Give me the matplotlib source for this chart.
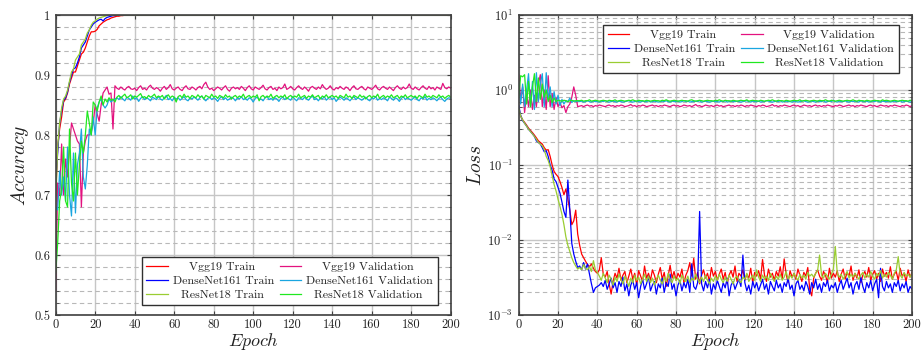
import matplotlib
matplotlib.use('Agg')
import matplotlib.pyplot as plt
from matplotlib.ticker import MultipleLocator, FuncFormatter, LogLocator, NullFormatter

plt.rcParams['font.family'] = 'serif'
plt.rcParams['font.serif'] = ['cmr10', 'DejaVu Serif']
plt.rcParams['mathtext.fontset'] = 'cm'
plt.rcParams['axes.formatter.use_mathtext'] = True
plt.rcParams['axes.unicode_minus'] = False

epochs = list(range(201))

# ---------------- Accuracy ----------------
acc_vgg19_train = [
    0.70, 0.78, 0.81, 0.83, 0.855, 0.86, 0.87, 0.885, 0.895, 0.905,
    0.905, 0.915, 0.925, 0.935, 0.938, 0.945, 0.955, 0.965, 0.972, 0.972,
    0.973, 0.976, 0.982, 0.985, 0.988, 0.99, 0.992, 0.993, 0.995, 0.996,
    0.997, 0.998, 0.998, 0.999, 0.999, 1.0,
] + [
    1.0, 1.0, 1.0, 1.0, 1.0, 1.0, 1.0, 1.0, 1.0, 1.0, 1.0, 1.0, 1.0, 1.0, 1.0,
    1.0, 1.0, 1.0, 1.0, 1.0, 1.0, 1.0, 1.0, 1.0, 1.0, 1.0, 1.0, 1.0, 1.0, 1.0,
    1.0, 1.0, 1.0, 1.0, 1.0, 1.0, 1.0, 1.0, 1.0, 1.0, 1.0, 1.0, 1.0, 1.0, 1.0,
    1.0, 1.0, 1.0, 1.0, 1.0, 1.0, 1.0, 1.0, 1.0, 1.0, 1.0, 1.0, 1.0, 1.0, 1.0,
    1.0, 1.0, 1.0, 1.0, 1.0, 1.0, 1.0, 1.0, 1.0, 1.0, 1.0, 1.0, 1.0, 1.0, 1.0,
    1.0, 1.0, 1.0, 1.0, 1.0, 1.0, 1.0, 1.0, 1.0, 1.0, 1.0, 1.0, 1.0, 1.0, 1.0,
    1.0, 1.0, 1.0, 1.0, 1.0, 1.0, 1.0, 1.0, 1.0, 1.0, 1.0, 1.0, 1.0, 1.0, 1.0,
    1.0, 1.0, 1.0, 1.0, 1.0, 1.0, 1.0, 1.0, 1.0, 1.0, 1.0, 1.0, 1.0, 1.0, 1.0,
    1.0, 1.0, 1.0, 1.0, 1.0, 1.0, 1.0, 1.0, 1.0, 1.0, 1.0, 1.0, 1.0, 1.0, 1.0,
    1.0, 1.0, 1.0, 1.0, 1.0, 1.0, 1.0, 1.0, 1.0, 1.0, 1.0, 1.0, 1.0, 1.0, 1.0,
    1.0, 1.0, 1.0, 1.0, 1.0, 1.0, 1.0, 1.0, 1.0, 1.0, 1.0, 1.0, 1.0, 1.0, 1.0,
]

acc_dense161_train = [
    0.72, 0.77, 0.82, 0.84, 0.858, 0.862, 0.872, 0.888, 0.90, 0.91,
    0.912, 0.92, 0.93, 0.945, 0.95, 0.955, 0.965, 0.975, 0.98, 0.985,
    0.988, 0.99, 0.992, 0.993, 0.99, 0.994, 0.996, 0.997, 0.998, 0.999,
    0.999, 1.0, 1.0, 1.0, 1.0, 1.0,
] + [
    1.0, 1.0, 1.0, 1.0, 1.0, 1.0, 1.0, 1.0, 1.0, 1.0, 1.0, 1.0, 1.0, 1.0, 1.0,
    1.0, 1.0, 1.0, 1.0, 1.0, 1.0, 1.0, 1.0, 1.0, 1.0, 1.0, 1.0, 1.0, 1.0, 1.0,
    1.0, 1.0, 1.0, 1.0, 1.0, 1.0, 1.0, 1.0, 1.0, 1.0, 1.0, 1.0, 1.0, 1.0, 1.0,
    1.0, 1.0, 1.0, 1.0, 1.0, 1.0, 1.0, 1.0, 1.0, 1.0, 1.0, 1.0, 1.0, 1.0, 1.0,
    1.0, 1.0, 1.0, 1.0, 1.0, 1.0, 1.0, 1.0, 1.0, 1.0, 1.0, 1.0, 1.0, 1.0, 1.0,
    1.0, 1.0, 1.0, 1.0, 1.0, 1.0, 1.0, 1.0, 1.0, 1.0, 1.0, 1.0, 1.0, 1.0, 1.0,
    1.0, 1.0, 1.0, 1.0, 1.0, 1.0, 1.0, 1.0, 1.0, 1.0, 1.0, 1.0, 1.0, 1.0, 1.0,
    1.0, 1.0, 1.0, 1.0, 1.0, 1.0, 1.0, 1.0, 1.0, 1.0, 1.0, 1.0, 1.0, 1.0, 1.0,
    1.0, 1.0, 1.0, 1.0, 1.0, 1.0, 1.0, 1.0, 1.0, 1.0, 1.0, 1.0, 1.0, 1.0, 1.0,
    1.0, 1.0, 1.0, 1.0, 1.0, 1.0, 1.0, 1.0, 1.0, 1.0, 1.0, 1.0, 1.0, 1.0, 1.0,
    1.0, 1.0, 1.0, 1.0, 1.0, 1.0, 1.0, 1.0, 1.0, 1.0, 1.0, 1.0, 1.0, 1.0, 1.0,
]

acc_res18_train = [
    0.69, 0.78, 0.82, 0.845, 0.86, 0.865, 0.875, 0.89, 0.905, 0.91,
    0.925, 0.93, 0.935, 0.95, 0.955, 0.96, 0.97, 0.975, 0.983, 0.988,
    0.99, 0.993, 0.995, 0.996, 0.997, 0.998, 0.999, 1.0, 1.0, 1.0,
    1.0, 1.0, 1.0, 1.0, 1.0, 1.0,
] + [
    1.0, 1.0, 1.0, 1.0, 1.0, 1.0, 1.0, 1.0, 1.0, 1.0, 1.0, 1.0, 1.0, 1.0, 1.0,
    1.0, 1.0, 1.0, 1.0, 1.0, 1.0, 1.0, 1.0, 1.0, 1.0, 1.0, 1.0, 1.0, 1.0, 1.0,
    1.0, 1.0, 1.0, 1.0, 1.0, 1.0, 1.0, 1.0, 1.0, 1.0, 1.0, 1.0, 1.0, 1.0, 1.0,
    1.0, 1.0, 1.0, 1.0, 1.0, 1.0, 1.0, 1.0, 1.0, 1.0, 1.0, 1.0, 1.0, 1.0, 1.0,
    1.0, 1.0, 1.0, 1.0, 1.0, 1.0, 1.0, 1.0, 1.0, 1.0, 1.0, 1.0, 1.0, 1.0, 1.0,
    1.0, 1.0, 1.0, 1.0, 1.0, 1.0, 1.0, 1.0, 1.0, 1.0, 1.0, 1.0, 1.0, 1.0, 1.0,
    1.0, 1.0, 1.0, 1.0, 1.0, 1.0, 1.0, 1.0, 1.0, 1.0, 1.0, 1.0, 1.0, 1.0, 1.0,
    1.0, 1.0, 1.0, 1.0, 1.0, 1.0, 1.0, 1.0, 1.0, 1.0, 1.0, 1.0, 1.0, 1.0, 1.0,
    1.0, 1.0, 1.0, 1.0, 1.0, 1.0, 1.0, 1.0, 1.0, 1.0, 1.0, 1.0, 1.0, 1.0, 1.0,
    1.0, 1.0, 1.0, 1.0, 1.0, 1.0, 1.0, 1.0, 1.0, 1.0, 1.0, 1.0, 1.0, 1.0, 1.0,
    1.0, 1.0, 1.0, 1.0, 1.0, 1.0, 1.0, 1.0, 1.0, 1.0, 1.0, 1.0, 1.0, 1.0, 1.0,
]

acc_vgg19_val = [
    0.54, 0.72, 0.70, 0.785, 0.70, 0.76, 0.73, 0.78, 0.82, 0.81,
    0.80, 0.79, 0.785, 0.68, 0.77, 0.79, 0.80, 0.80, 0.805, 0.82,
    0.85, 0.835, 0.823, 0.85, 0.87, 0.875, 0.88, 0.868, 0.87, 0.81,
    0.882,
] + [
    0.878, 0.876, 0.880, 0.877, 0.875, 0.879, 0.881, 0.877, 0.876, 0.878,
    0.874, 0.879, 0.882, 0.876, 0.878, 0.875, 0.880, 0.883, 0.878, 0.876,
    0.879, 0.877, 0.873, 0.878, 0.881, 0.876, 0.879, 0.884, 0.877, 0.875,
    0.878, 0.880, 0.876, 0.874, 0.879, 0.882, 0.877, 0.876, 0.880, 0.878,
    0.875, 0.879, 0.881, 0.877, 0.884, 0.888, 0.880, 0.876, 0.878, 0.874,
    0.877, 0.880, 0.878, 0.875, 0.879, 0.882, 0.876, 0.873, 0.878, 0.880,
    0.877, 0.879, 0.876, 0.881, 0.878, 0.874, 0.879, 0.882, 0.877, 0.875,
    0.880, 0.878, 0.876, 0.879, 0.883, 0.877, 0.875, 0.879, 0.881, 0.876,
    0.878, 0.874, 0.880, 0.877, 0.879, 0.885, 0.876, 0.878, 0.881, 0.877,
    0.875, 0.879, 0.882, 0.878, 0.876, 0.880, 0.877, 0.873, 0.879, 0.881,
    0.878, 0.876, 0.880, 0.877, 0.884, 0.879, 0.876, 0.878, 0.882, 0.877,
    0.875, 0.879, 0.877, 0.881, 0.878, 0.876, 0.880, 0.878, 0.874, 0.879,
    0.882, 0.877, 0.876, 0.879, 0.881, 0.877, 0.875, 0.880, 0.878, 0.876,
    0.879, 0.883, 0.877, 0.875, 0.879, 0.881, 0.878, 0.876, 0.880, 0.877,
    0.874, 0.879, 0.882, 0.878, 0.876, 0.880, 0.877, 0.879, 0.885, 0.878,
    0.876, 0.880, 0.877, 0.875, 0.879, 0.882, 0.878, 0.876, 0.881, 0.877,
    0.879, 0.875, 0.880, 0.878, 0.876, 0.886, 0.879, 0.877, 0.880, 0.878,
]

acc_dense161_val = [
    0.68, 0.675, 0.74, 0.70, 0.73, 0.69, 0.78, 0.70, 0.665, 0.77,
    0.67, 0.75, 0.77, 0.81, 0.73, 0.71, 0.75, 0.81, 0.80, 0.83,
    0.80, 0.845, 0.855, 0.86, 0.85, 0.845, 0.85, 0.86, 0.855, 0.858,
    0.86,
] + [
    0.862, 0.859, 0.864, 0.860, 0.857, 0.863, 0.861, 0.858, 0.865, 0.860,
    0.862, 0.856, 0.861, 0.864, 0.859, 0.862, 0.860, 0.857, 0.863, 0.861,
    0.859, 0.864, 0.860, 0.858, 0.862, 0.866, 0.859, 0.861, 0.857, 0.863,
    0.860, 0.862, 0.858, 0.861, 0.864, 0.859, 0.857, 0.862, 0.860, 0.863,
    0.861, 0.858, 0.862, 0.865, 0.860, 0.857, 0.861, 0.863, 0.859, 0.862,
    0.860, 0.856, 0.861, 0.864, 0.859, 0.862, 0.858, 0.860, 0.863, 0.861,
    0.857, 0.862, 0.860, 0.864, 0.859, 0.861, 0.858, 0.862, 0.860, 0.855,
    0.861, 0.863, 0.859, 0.860, 0.857, 0.862, 0.864, 0.859, 0.861, 0.858,
    0.862, 0.860, 0.856, 0.861, 0.863, 0.859, 0.862, 0.860, 0.858, 0.864,
    0.860, 0.857, 0.862, 0.861, 0.859, 0.863, 0.860, 0.858, 0.862, 0.865,
    0.859, 0.861, 0.857, 0.862, 0.860, 0.864, 0.858, 0.861, 0.863, 0.859,
    0.862, 0.856, 0.860, 0.863, 0.861, 0.858, 0.862, 0.860, 0.857, 0.861,
    0.864, 0.859, 0.862, 0.860, 0.858, 0.861, 0.863, 0.859, 0.857, 0.862,
    0.860, 0.864, 0.858, 0.861, 0.859, 0.862, 0.860, 0.857, 0.863, 0.861,
    0.858, 0.862, 0.860, 0.856, 0.861, 0.864, 0.859, 0.862, 0.860, 0.858,
    0.861, 0.863, 0.859, 0.857, 0.862, 0.860, 0.864, 0.858, 0.861, 0.859,
    0.862, 0.860, 0.857, 0.861, 0.863, 0.859, 0.856, 0.860, 0.862, 0.861,
]

acc_res18_val = [
    0.57, 0.62, 0.69, 0.71, 0.78, 0.69, 0.68, 0.81, 0.72, 0.69,
    0.77, 0.70, 0.75, 0.79, 0.77, 0.80, 0.84, 0.82, 0.80, 0.855,
    0.85, 0.84, 0.855, 0.865, 0.85, 0.86, 0.855, 0.862, 0.858, 0.86,
    0.855,
] + [
    0.863, 0.866, 0.861, 0.865, 0.868, 0.862, 0.864, 0.867, 0.860, 0.865,
    0.863, 0.866, 0.869, 0.862, 0.864, 0.861, 0.866, 0.863, 0.865, 0.868,
    0.862, 0.865, 0.863, 0.866, 0.860, 0.864, 0.867, 0.862, 0.865, 0.863,
    0.855, 0.864, 0.866, 0.862, 0.868, 0.863, 0.865, 0.861, 0.866, 0.864,
    0.862, 0.867, 0.863, 0.865, 0.860, 0.866, 0.864, 0.862, 0.868, 0.863,
    0.865, 0.861, 0.866, 0.864, 0.862, 0.867, 0.863, 0.865, 0.860, 0.864,
    0.866, 0.862, 0.865, 0.863, 0.868, 0.861, 0.864, 0.866, 0.862, 0.865,
    0.863, 0.867, 0.857, 0.864, 0.866, 0.862, 0.865, 0.863, 0.868, 0.861,
    0.864, 0.866, 0.862, 0.865, 0.863, 0.867, 0.860, 0.864, 0.866, 0.862,
    0.865, 0.863, 0.868, 0.862, 0.864, 0.866, 0.861, 0.865, 0.863, 0.867,
    0.862, 0.864, 0.866, 0.860, 0.865, 0.863, 0.867, 0.862, 0.864, 0.866,
    0.863, 0.865, 0.861, 0.866, 0.864, 0.862, 0.868, 0.863, 0.865, 0.861,
    0.866, 0.864, 0.862, 0.867, 0.863, 0.865, 0.860, 0.864, 0.866, 0.862,
    0.865, 0.863, 0.868, 0.861, 0.864, 0.866, 0.862, 0.865, 0.863, 0.867,
    0.862, 0.864, 0.866, 0.861, 0.865, 0.863, 0.867, 0.862, 0.864, 0.866,
    0.863, 0.865, 0.861, 0.866, 0.864, 0.862, 0.868, 0.863, 0.865, 0.862,
    0.866, 0.864, 0.862, 0.867, 0.863, 0.865, 0.861, 0.864, 0.866, 0.863,
]

# ---------------- Loss ----------------
loss_vgg19_train = [
    0.55, 0.45, 0.40, 0.37, 0.34, 0.31, 0.29, 0.27, 0.25, 0.23,
    0.21, 0.20, 0.19, 0.17, 0.158, 0.16, 0.13, 0.10, 0.082, 0.075,
    0.07, 0.06, 0.05, 0.04, 0.048, 0.035, 0.025, 0.016, 0.018, 0.025,
    0.012, 0.0085, 0.0065, 0.0058, 0.0052, 0.0047, 0.0044, 0.0048, 0.0042, 0.0038,
    0.0036,
] + [
    0.0040, 0.0058, 0.0035, 0.0032, 0.0038, 0.0026, 0.0019, 0.0028, 0.0036, 0.0031,
    0.0042, 0.0029, 0.0034, 0.0038, 0.0027, 0.0033, 0.0041, 0.0030, 0.0036, 0.0025,
    0.0039, 0.0033, 0.0028, 0.0045, 0.0031, 0.0036, 0.0029, 0.0040, 0.0034, 0.0027,
    0.0035, 0.0043, 0.0030, 0.0037, 0.0024, 0.0033, 0.0046, 0.0031, 0.0038, 0.0029,
    0.0036, 0.0032, 0.0041, 0.0027, 0.0034, 0.0039, 0.0050, 0.0033, 0.0057, 0.0030,
    0.0037, 0.0026, 0.0034, 0.0040, 0.0031, 0.0036, 0.0028, 0.0043, 0.0033, 0.0038,
    0.0029, 0.0035, 0.0041, 0.0030, 0.0037, 0.0026, 0.0034, 0.0039, 0.0032, 0.0045,
    0.0028, 0.0036, 0.0033, 0.0040, 0.0029, 0.0035, 0.0031, 0.0042, 0.0027, 0.0037,
    0.0033, 0.0039, 0.0030, 0.0055, 0.0034, 0.0028, 0.0041, 0.0032, 0.0036, 0.0029,
    0.0038, 0.0033, 0.0044, 0.0030, 0.0056, 0.0035, 0.0027, 0.0039, 0.0032, 0.0036,
    0.0030, 0.0041, 0.0034, 0.0028, 0.0037, 0.0033, 0.0043, 0.0022, 0.0018, 0.0031,
    0.0036, 0.0040, 0.0033, 0.0029, 0.0038, 0.0034, 0.0027, 0.0042, 0.0031, 0.0036,
    0.0032, 0.0039, 0.0028, 0.0035, 0.0041, 0.0030, 0.0037, 0.0033, 0.0045, 0.0029,
    0.0036, 0.0031, 0.0040, 0.0027, 0.0034, 0.0038, 0.0032, 0.0043, 0.0029, 0.0035,
    0.0039, 0.0030, 0.0036, 0.0028, 0.0041, 0.0033, 0.0037, 0.0031, 0.0044, 0.0030,
    0.0035, 0.0038, 0.0029, 0.0042, 0.0033, 0.0036, 0.0028, 0.0040, 0.0032, 0.0037,
]

loss_dense161_train = [
    0.62, 0.46, 0.39, 0.36, 0.33, 0.30, 0.28, 0.26, 0.24, 0.21,
    0.20, 0.19, 0.17, 0.15, 0.155, 0.13, 0.10, 0.085, 0.065, 0.06,
    0.05, 0.042, 0.032, 0.024, 0.02, 0.063, 0.025, 0.009, 0.0065, 0.0052,
    0.0043, 0.0045, 0.0040, 0.0050, 0.0041, 0.0048, 0.0035, 0.0026, 0.0020, 0.0023,
    0.0024,
] + [
    0.0025, 0.0027, 0.0024, 0.0029, 0.0022, 0.0026, 0.0031, 0.0023, 0.0027, 0.0020,
    0.0028, 0.0024, 0.0032, 0.0021, 0.0026, 0.0018, 0.0025, 0.0029, 0.0022, 0.0027,
    0.0017, 0.0024, 0.0030, 0.0022, 0.0026, 0.0033, 0.0021, 0.0025, 0.0028, 0.0019,
    0.0026, 0.0023, 0.0031, 0.0020, 0.0027, 0.0024, 0.0035, 0.0022, 0.0026, 0.0018,
    0.0025, 0.0029, 0.0021, 0.0027, 0.0023, 0.0030, 0.0020, 0.0048, 0.0024, 0.0022,
    0.0027, 0.0240, 0.0026, 0.0021, 0.0028, 0.0023, 0.0030, 0.0019, 0.0026, 0.0022,
    0.0029, 0.0024, 0.0020, 0.0027, 0.0023, 0.0031, 0.0018, 0.0025, 0.0028, 0.0022,
    0.0026, 0.0030, 0.0024, 0.0063, 0.0027, 0.0021, 0.0025, 0.0019, 0.0028, 0.0023,
    0.0027, 0.0021, 0.0025, 0.0030, 0.0022, 0.0026, 0.0019, 0.0028, 0.0024, 0.0021,
    0.0029, 0.0023, 0.0026, 0.0020, 0.0027, 0.0024, 0.0031, 0.0022, 0.0025, 0.0018,
    0.0026, 0.0029, 0.0022, 0.0025, 0.0021, 0.0028, 0.0024, 0.0019, 0.0027, 0.0023,
    0.0030, 0.0022, 0.0026, 0.0020, 0.0027, 0.0024, 0.0029, 0.0021, 0.0025, 0.0023,
    0.0027, 0.0020, 0.0025, 0.0029, 0.0022, 0.0026, 0.0031, 0.0023, 0.0027, 0.0019,
    0.0025, 0.0028, 0.0022, 0.0032, 0.0024, 0.0020, 0.0027, 0.0023, 0.0029, 0.0021,
    0.0026, 0.0030, 0.0017, 0.0042, 0.0024, 0.0021, 0.0028, 0.0023, 0.0026, 0.0020,
    0.0027, 0.0024, 0.0029, 0.0021, 0.0026, 0.0023, 0.0028, 0.0020, 0.0024, 0.0022,
]

loss_res18_train = [
    0.58, 0.45, 0.40, 0.36, 0.33, 0.30, 0.28, 0.26, 0.24, 0.22,
    0.20, 0.19, 0.18, 0.16, 0.13, 0.115, 0.095, 0.072, 0.055, 0.045,
    0.035, 0.028, 0.022, 0.016, 0.011, 0.0085, 0.0070, 0.0058, 0.0050, 0.0045,
    0.0041, 0.0043, 0.0040, 0.0047, 0.0042, 0.0040, 0.0044, 0.0038, 0.0053, 0.0040,
    0.0037,
] + [
    0.0033, 0.0029, 0.0036, 0.0031, 0.0027, 0.0034, 0.0030, 0.0025, 0.0032, 0.0028,
    0.0035, 0.0030, 0.0026, 0.0033, 0.0029, 0.0024, 0.0031, 0.0027, 0.0034, 0.0029,
    0.0032, 0.0026, 0.0030, 0.0035, 0.0028, 0.0033, 0.0027, 0.0031, 0.0025, 0.0030,
    0.0034, 0.0029, 0.0026, 0.0032, 0.0028, 0.0036, 0.0030, 0.0027, 0.0033, 0.0029,
    0.0031, 0.0026, 0.0034, 0.0030, 0.0028, 0.0033, 0.0027, 0.0031, 0.0029, 0.0035,
    0.0030, 0.0027, 0.0032, 0.0028, 0.0034, 0.0029, 0.0026, 0.0031, 0.0028, 0.0033,
    0.0029, 0.0035, 0.0030, 0.0027, 0.0032, 0.0028, 0.0034, 0.0030, 0.0026, 0.0031,
    0.0033, 0.0029, 0.0027, 0.0032, 0.0030, 0.0036, 0.0028, 0.0031, 0.0034, 0.0029,
    0.0040, 0.0032, 0.0028, 0.0034, 0.0030, 0.0033, 0.0029, 0.0036, 0.0031, 0.0028,
    0.0033, 0.0030, 0.0035, 0.0029, 0.0032, 0.0038, 0.0030, 0.0034, 0.0031, 0.0036,
    0.0032, 0.0029, 0.0035, 0.0031, 0.0034, 0.0030, 0.0037, 0.0033, 0.0035, 0.0032,
    0.0036, 0.0039, 0.0063, 0.0034, 0.0031, 0.0036, 0.0033, 0.0030, 0.0035, 0.0041,
    0.0082, 0.0036, 0.0032, 0.0035, 0.0030, 0.0034, 0.0038, 0.0031, 0.0035, 0.0032,
    0.0036, 0.0033, 0.0030, 0.0034, 0.0037, 0.0031, 0.0035, 0.0032, 0.0038, 0.0033,
    0.0030, 0.0036, 0.0033, 0.0039, 0.0031, 0.0035, 0.0032, 0.0037, 0.0034, 0.0030,
    0.0036, 0.0040, 0.0060, 0.0034, 0.0031, 0.0037, 0.0033, 0.0035, 0.0032, 0.0036,
]

loss_vgg19_val = [
    1.60, 0.75, 1.10, 0.50, 0.90, 0.60, 1.00, 0.55, 0.85, 0.60,
    1.20, 1.60, 0.60, 1.00, 0.55, 1.55, 0.60, 0.90, 0.55, 0.80,
    0.60, 0.68, 0.58, 0.62, 0.50, 0.60, 0.65, 0.80, 1.10, 0.85,
    0.60,
] + [
    0.61, 0.62, 0.60, 0.62, 0.63, 0.61, 0.62, 0.60, 0.62, 0.61,
    0.63, 0.62, 0.61, 0.60, 0.62, 0.63, 0.61, 0.62, 0.60, 0.62,
    0.61, 0.63, 0.62, 0.60, 0.61, 0.62, 0.64, 0.61, 0.62, 0.60,
    0.62, 0.61, 0.63, 0.62, 0.60, 0.61, 0.62, 0.63, 0.61, 0.62,
    0.60, 0.62, 0.61, 0.63, 0.62, 0.61, 0.60, 0.62, 0.63, 0.61,
    0.62, 0.60, 0.61, 0.63, 0.62, 0.61, 0.62, 0.60, 0.62, 0.64,
    0.61, 0.62, 0.60, 0.61, 0.63, 0.62, 0.61, 0.62, 0.60, 0.62,
    0.63, 0.61, 0.62, 0.60, 0.61, 0.62, 0.63, 0.61, 0.62, 0.60,
    0.62, 0.61, 0.63, 0.62, 0.60, 0.62, 0.61, 0.63, 0.62, 0.61,
    0.60, 0.62, 0.61, 0.63, 0.62, 0.60, 0.61, 0.62, 0.64, 0.61,
    0.62, 0.60, 0.62, 0.61, 0.63, 0.62, 0.61, 0.60, 0.62, 0.63,
    0.61, 0.62, 0.60, 0.61, 0.63, 0.62, 0.61, 0.62, 0.60, 0.62,
    0.63, 0.61, 0.62, 0.60, 0.62, 0.61, 0.63, 0.62, 0.61, 0.60,
    0.62, 0.61, 0.63, 0.62, 0.60, 0.61, 0.62, 0.63, 0.61, 0.62,
    0.60, 0.62, 0.61, 0.63, 0.62, 0.61, 0.60, 0.62, 0.63, 0.61,
    0.62, 0.60, 0.61, 0.63, 0.62, 0.61, 0.62, 0.60, 0.62, 0.61,
    0.63, 0.62, 0.61, 0.60, 0.62, 0.61, 0.63, 0.62, 0.60, 0.62,
]

loss_dense161_val = [
    1.30, 0.65, 1.20, 0.60, 1.00, 1.65, 0.60, 1.30, 0.55, 1.70,
    0.70, 1.20, 1.65, 0.60, 1.70, 0.75, 1.10, 0.60, 0.95, 0.65,
    0.85, 0.62, 0.75, 0.65, 0.72, 0.70, 0.78, 0.68, 0.72, 0.70,
    0.71,
] + [
    0.70, 0.71, 0.69, 0.70, 0.72, 0.70, 0.69, 0.71, 0.70, 0.70,
    0.69, 0.71, 0.70, 0.72, 0.70, 0.69, 0.70, 0.71, 0.70, 0.69,
    0.71, 0.70, 0.69, 0.70, 0.71, 0.72, 0.70, 0.69, 0.70, 0.71,
    0.70, 0.69, 0.71, 0.70, 0.70, 0.72, 0.69, 0.70, 0.71, 0.70,
    0.69, 0.70, 0.71, 0.70, 0.72, 0.70, 0.69, 0.71, 0.70, 0.70,
    0.71, 0.69, 0.70, 0.72, 0.70, 0.71, 0.69, 0.70, 0.70, 0.71,
    0.70, 0.72, 0.69, 0.70, 0.71, 0.70, 0.69, 0.70, 0.71, 0.70,
    0.70, 0.69, 0.71, 0.70, 0.72, 0.69, 0.70, 0.71, 0.70, 0.70,
    0.71, 0.70, 0.69, 0.70, 0.71, 0.72, 0.70, 0.69, 0.71, 0.70,
    0.70, 0.71, 0.69, 0.70, 0.70, 0.72, 0.71, 0.70, 0.69, 0.70,
    0.71, 0.70, 0.72, 0.69, 0.70, 0.71, 0.70, 0.70, 0.69, 0.71,
    0.70, 0.69, 0.70, 0.71, 0.72, 0.70, 0.69, 0.70, 0.71, 0.70,
    0.69, 0.71, 0.70, 0.70, 0.72, 0.69, 0.70, 0.71, 0.70, 0.73,
    0.70, 0.69, 0.71, 0.70, 0.70, 0.72, 0.70, 0.69, 0.71, 0.70,
    0.71, 0.70, 0.69, 0.72, 0.70, 0.70, 0.71, 0.69, 0.70, 0.71,
    0.70, 0.72, 0.70, 0.69, 0.71, 0.70, 0.70, 0.71, 0.69, 0.70,
    0.71, 0.70, 0.70, 0.72, 0.69, 0.70, 0.71, 0.70, 0.69, 0.70,
]

loss_res18_val = [
    0.80, 1.55, 1.50, 1.60, 0.65, 1.30, 0.60, 1.10, 1.65, 0.70,
    1.45, 0.75, 1.20, 0.80, 1.00, 0.70, 0.85, 0.68, 0.78, 0.70,
    0.73, 0.72, 0.71, 0.73, 0.72, 0.70, 0.72, 0.73, 0.71, 0.72,
    0.72,
] + [
    0.72, 0.73, 0.71, 0.72, 0.72, 0.74, 0.71, 0.72, 0.73, 0.72,
    0.71, 0.72, 0.73, 0.72, 0.71, 0.73, 0.72, 0.72, 0.74, 0.71,
    0.72, 0.73, 0.72, 0.71, 0.72, 0.73, 0.72, 0.74, 0.72, 0.71,
    0.73, 0.72, 0.72, 0.71, 0.73, 0.72, 0.71, 0.72, 0.73, 0.72,
    0.72, 0.71, 0.73, 0.72, 0.74, 0.72, 0.71, 0.72, 0.73, 0.72,
    0.71, 0.72, 0.73, 0.72, 0.72, 0.71, 0.73, 0.74, 0.72, 0.71,
    0.72, 0.73, 0.72, 0.71, 0.72, 0.73, 0.72, 0.72, 0.71, 0.73,
    0.72, 0.74, 0.72, 0.71, 0.73, 0.72, 0.72, 0.71, 0.73, 0.72,
    0.71, 0.72, 0.73, 0.72, 0.72, 0.74, 0.71, 0.72, 0.73, 0.72,
    0.72, 0.71, 0.73, 0.72, 0.71, 0.72, 0.73, 0.72, 0.74, 0.72,
    0.71, 0.73, 0.72, 0.72, 0.71, 0.73, 0.72, 0.71, 0.72, 0.73,
    0.72, 0.72, 0.74, 0.71, 0.72, 0.73, 0.72, 0.71, 0.72, 0.73,
    0.72, 0.71, 0.73, 0.72, 0.72, 0.74, 0.72, 0.71, 0.73, 0.72,
    0.71, 0.72, 0.73, 0.72, 0.71, 0.72, 0.73, 0.72, 0.72, 0.74,
    0.72, 0.71, 0.73, 0.72, 0.72, 0.71, 0.73, 0.72, 0.71, 0.72,
    0.73, 0.72, 0.72, 0.71, 0.74, 0.72, 0.73, 0.72, 0.71, 0.72,
    0.73, 0.72, 0.71, 0.72, 0.73, 0.72, 0.72, 0.71, 0.73, 0.72,
]

series_labels = ["Vgg19 Train", "Vgg19 Validation",
                 "DenseNet161 Train", "DenseNet161 Validation",
                 "ResNet18 Train", "ResNet18 Validation"]
colors = ['#ff0000', '#e3127f', '#0000ff', '#1aa6e0', '#9acd32', '#20e820']

acc_series = [acc_vgg19_train, acc_vgg19_val, acc_dense161_train,
              acc_dense161_val, acc_res18_train, acc_res18_val]
loss_series = [loss_vgg19_train, loss_vgg19_val, loss_dense161_train,
               loss_dense161_val, loss_res18_train, loss_res18_val]

# centred labels in legend (pgfplots style)
pads = ['    ', '    ', '', '', '  ', '  ']

fig = plt.figure(figsize=(9.22, 3.52), dpi=100)
ax1 = fig.add_axes([55.7 / 922, 37 / 352, 395 / 922, 300 / 352])
ax2 = fig.add_axes([518.7 / 922, 37 / 352, 393.3 / 922, 300 / 352])

spine_col = '#404040'
for ax in (ax1, ax2):
    ax.set_axisbelow(True)
    ax.set_xlim(0, 200)
    ax.xaxis.set_major_locator(MultipleLocator(20))
    ax.grid(True, which='major', axis='both', color='#c6c6c6', lw=1.0, ls='-')
    ax.grid(True, which='minor', axis='y', color='#b8b8b8', lw=0.8, ls=(0, (4, 3)))
    for s in ax.spines.values():
        s.set_color(spine_col)
        s.set_linewidth(1.2)
    ax.tick_params(which='major', direction='in', length=3, width=0.8,
                   color=spine_col, labelsize=9, labelcolor='#222222',
                   top=True, right=True, pad=4)
    ax.tick_params(axis='x', which='major', pad=2.5)
    ax.tick_params(which='minor', direction='in', length=1.8, width=0.6,
                   color=spine_col, top=False, right=True)
    ax.set_xlabel(r'$Epoch$', fontsize=13, labelpad=0.5, color='#222222')

# Accuracy panel
lines1 = []
for y, c, lab in zip(acc_series, colors, series_labels):
    ln, = ax1.plot(epochs, y, color=c, lw=0.9, label=lab)
    lines1.append(ln)
ax1.set_ylim(0.5, 1.0)
ax1.yaxis.set_major_locator(MultipleLocator(0.1))
ax1.yaxis.set_minor_locator(MultipleLocator(0.02))
ax1.yaxis.set_major_formatter(FuncFormatter(lambda v, p: f'{round(v, 2):g}'))
ax1.xaxis.set_major_formatter(FuncFormatter(lambda v, p: f'{int(round(v))}'))
ax1.set_ylabel(r'$Accuracy$', fontsize=14, labelpad=2, color='#222222')

# Loss panel
lines2 = []
for y, c, lab in zip(loss_series, colors, series_labels):
    ln, = ax2.plot(epochs, y, color=c, lw=0.9, label=lab)
    lines2.append(ln)
ax2.set_yscale('log')
ax2.set_ylim(1e-3, 10)
ax2.yaxis.set_major_locator(LogLocator(base=10, numticks=10))
ax2.yaxis.set_minor_locator(LogLocator(base=10, subs=range(2, 10), numticks=20))
ax2.yaxis.set_minor_formatter(NullFormatter())
ax2.xaxis.set_major_formatter(FuncFormatter(lambda v, p: f'{int(round(v))}'))
ax2.set_ylabel(r'$Loss$', fontsize=14, labelpad=2, color='#222222')

order = [0, 2, 4, 1, 3, 5]


def add_legend(ax, lines, loc, anchor):
    h = [lines[i] for i in order]
    l = [pads[i] + series_labels[i] for i in order]
    leg = ax.legend(h, l, loc=loc, bbox_to_anchor=anchor, ncol=2,
                    fontsize=8.6, frameon=True, fancybox=False,
                    edgecolor='#303030', framealpha=1.0, borderaxespad=0,
                    handlelength=1.8, handletextpad=0.4, columnspacing=0.5,
                    labelspacing=0.3, borderpad=0.4)
    leg.get_frame().set_linewidth(1.0)
    for t in leg.get_texts():
        t.set_color('#222222')
    return leg


add_legend(ax1, lines1, 'lower right', (0.967, 0.033))
add_legend(ax2, lines2, 'upper right', (0.967, 0.967))

fig.savefig('out.png', dpi=100)
